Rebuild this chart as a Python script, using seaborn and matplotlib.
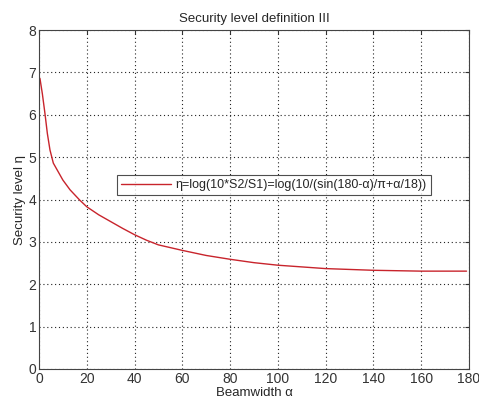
import matplotlib
matplotlib.use("Agg")
import matplotlib.pyplot as plt
import seaborn as sns
import pandas as pd

# Beamwidth alpha (degrees) and security level eta
alpha = [0.4, 1.4, 2.5, 3.5, 4.6, 6, 8, 10, 13, 17, 20, 25, 30, 35, 40, 45, 50,
         60, 70, 80, 90, 100, 110, 120, 130, 140, 150, 160, 170, 179]
eta = [6.86, 6.50, 6.03, 5.56, 5.17, 4.86, 4.66, 4.46, 4.23, 3.99, 3.83, 3.64,
       3.48, 3.32, 3.17, 3.04, 2.93, 2.80, 2.68, 2.59, 2.51, 2.45, 2.41, 2.37,
       2.35, 2.33, 2.32, 2.31, 2.31, 2.31]

legend_label = "η=log(10*S2/S1)=log(10/(sin(180-α)/π+α/18))"

df = pd.DataFrame({"alpha": alpha, "eta": eta})

sns.set_style("white")
plt.rcParams["font.family"] = ["Liberation Sans", "DejaVu Sans"]
plt.rcParams["font.size"] = 9

fig = plt.figure(figsize=(4.79, 4.07), dpi=100)
ax = fig.add_axes([0.0814, 0.0934, 0.8976, 0.8326])

sns.lineplot(data=df, x="alpha", y="eta", ax=ax, color="#c8242c",
             linewidth=1.0, label=legend_label)

ax.set_xlim(0, 180)
ax.set_ylim(0, 8)
ax.set_xticks(range(0, 181, 20))
ax.set_yticks(range(0, 9))
ax.grid(True, linestyle=(0, (1, 2.5)), color="#222222", linewidth=0.8)
ax.tick_params(direction="in", top=True, right=True, length=3,
               labelsize=10, colors="#333333", pad=2)
for s in ax.spines.values():
    s.set_color("#444444")
    s.set_linewidth(0.8)

ax.set_xlabel("Beamwidth α", fontsize=9.5, labelpad=1)
ax.set_ylabel("Security level η", fontsize=9.5, labelpad=2)
ax.set_title("Security level definition III", fontsize=9.5, pad=6)

leg = ax.legend(loc="center", bbox_to_anchor=(0.546, 0.543), frameon=True,
                fancybox=False, fontsize=9, handlelength=4.0,
                borderpad=0.35, handletextpad=0.3)
leg.get_frame().set_edgecolor("#222222")
leg.get_frame().set_linewidth(0.8)

fig.savefig("out.png", dpi=100)
